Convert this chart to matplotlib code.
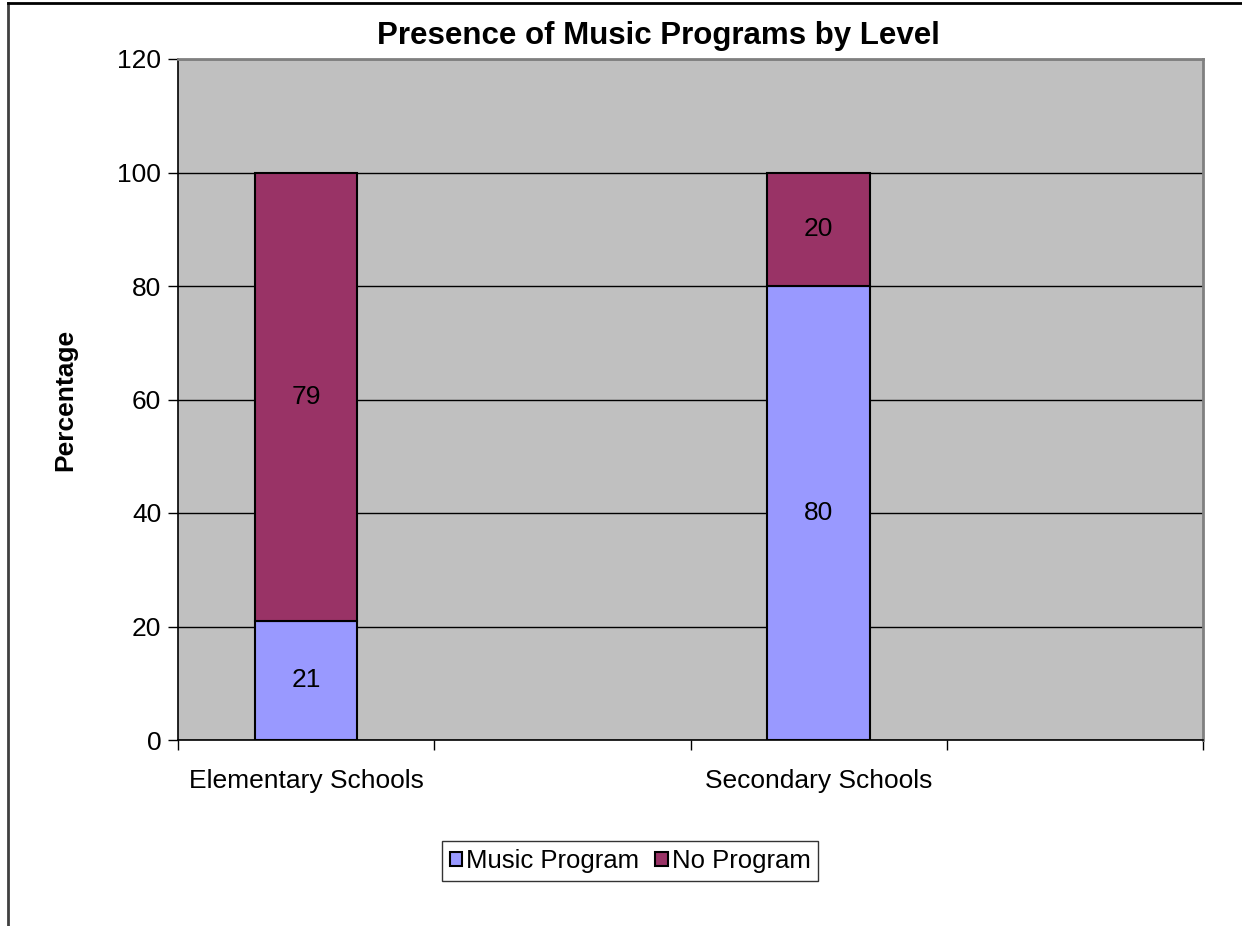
import matplotlib.pyplot as plt
from matplotlib.lines import Line2D

plt.rcParams['font.family'] = ['Liberation Sans', 'DejaVu Sans']

categories = ["Elementary Schools", "Secondary Schools"]
music_program = [21, 80]
no_program = [79, 20]
yticks = [0, 20, 40, 60, 80, 100, 120]

fig = plt.figure(figsize=(12.42, 9.26), dpi=100)
ax = fig.add_axes([178 / 1242, 1 - 740 / 926, (1203 - 178) / 1242, (740 - 59) / 926])
ax.set_facecolor("#C0C0C0")

# categories sit on every other slot of a four-slot axis
pos = [2 * i for i in range(len(categories))]
b1 = ax.bar(pos, music_program, width=0.4, color="#9999FF", edgecolor="black",
            linewidth=1.5, label="Music Program", zorder=3)
b2 = ax.bar(pos, no_program, width=0.4, bottom=music_program, color="#993366",
            edgecolor="black", linewidth=1.5, label="No Program", zorder=3)
for bars, vals, bottoms in [(b1, music_program, [0, 0]), (b2, no_program, music_program)]:
    for bar, v, b in zip(bars, vals, bottoms):
        ax.text(bar.get_x() + bar.get_width() / 2, b + v / 2, str(v),
                ha="center", va="center", fontsize=19, zorder=4)

ax.set_xlim(-0.5, 3.5)
ax.set_ylim(0, 120)
ax.set_yticks(yticks)
ax.yaxis.grid(True, color="black", linewidth=1)
ax.set_axisbelow(True)
ax.set_xticks([-0.5, 0.5, 1.5, 2.5, 3.5])
ax.set_xticklabels([])
ax.set_xticks(pos, minor=True)
ax.set_xticklabels(categories, minor=True, fontsize=19)
ax.tick_params(axis="x", which="minor", length=0, pad=21)
ax.tick_params(axis="x", which="major", length=7, width=1, direction="out")
ax.tick_params(axis="y", length=7, width=1, labelsize=19, pad=5)

for s in ["top", "right"]:
    ax.spines[s].set_color("#808080")
    ax.spines[s].set_linewidth(2)
for s in ["left", "bottom"]:
    ax.spines[s].set_color("black")
    ax.spines[s].set_linewidth(1.2)

ax.set_ylabel("Percentage", fontsize=19, fontweight="bold", labelpad=29)
fig.text(0.53, 1 - 36 / 926, "Presence of Music Programs by Level", ha="center",
         va="center", fontsize=22.5, fontweight="bold")

leg = fig.legend(handles=[b1, b2], loc="center", bbox_to_anchor=(630 / 1242, 1 - 861 / 926),
                 ncol=2, fontsize=18.5, frameon=True, fancybox=False, handlelength=0.5,
                 handleheight=0.5, handletextpad=0.15, columnspacing=0.6, borderpad=0.3)
leg.get_frame().set_edgecolor("black")
leg.get_frame().set_linewidth(1)

# outer chart frame, cut off at the right and bottom
fig.add_artist(Line2D([8 / 1242, 8 / 1242], [0, 1 - 3 / 926], color="#404040", linewidth=2))
fig.add_artist(Line2D([8 / 1242, 1], [1 - 3 / 926, 1 - 3 / 926], color="black", linewidth=2))

fig.savefig("out.png", dpi=100)
